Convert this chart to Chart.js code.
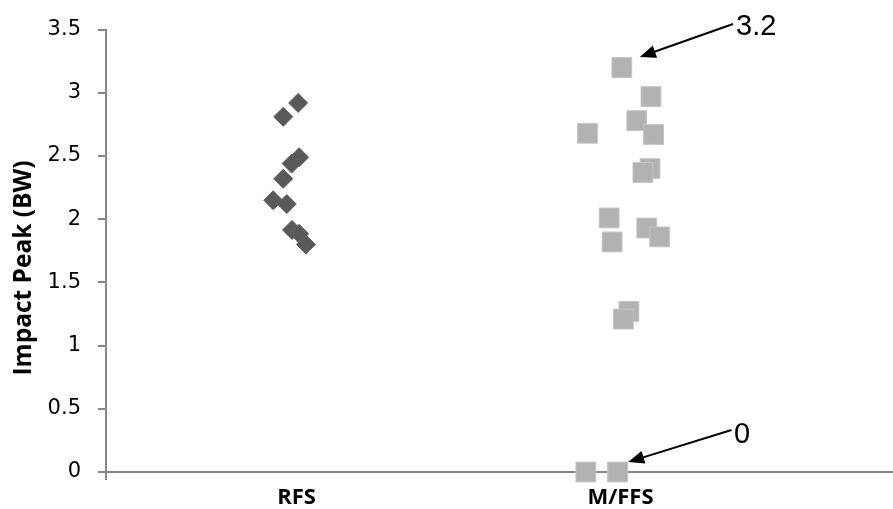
<!DOCTYPE html>
<html>
<head>
<meta charset="utf-8">
<script src="https://cdn.jsdelivr.net/npm/chart.js@4/dist/chart.umd.min.js"></script>
<style>
  html, body { margin: 0; padding: 0; background: #ffffff; }
  #wrap { width: 893px; height: 509px; }
</style>
</head>
<body>
<div id="wrap"><canvas id="c" width="893" height="509"></canvas></div>
<script>
// Foot-strike groups on the category axis (RFS at x = 1, M/FFS at x = 2)
const categories = ['RFS', 'M/FFS'];

// Rearfoot strikers: horizontal spread around x = 1 and impact peak (BW)
const rfsSpread = [1.005, 0.959, 1.008, 0.985, 0.959, 0.928, 0.970, 0.986, 1.008, 1.029];
const rfsPeak   = [2.92, 2.81, 2.49, 2.44, 2.32, 2.15, 2.12, 1.915, 1.885, 1.80];

// Mid/forefoot strikers: horizontal spread around x = 2 and impact peak (BW)
const mffsSpread = [2.004, 2.094, 2.050, 1.898, 2.102, 2.091, 2.069, 1.965, 2.081, 2.121, 1.974, 2.026, 2.009, 1.893, 1.991];
const mffsPeak   = [3.20, 2.97, 2.78, 2.68, 2.67, 2.40, 2.37, 2.01, 1.93, 1.86, 1.82, 1.27, 1.21, 0, 0];

// Y axis range and step
const yMin = 0, yMax = 3.5, yStep = 0.5;
// X range of the category axis
const xMin = 0.412, xMax = 2.841;

// Callouts: text, which M/FFS point it points at, tail position and tip offset
const callouts = [
  { text: '3.2', point: 0,  tail: [733, 24],    tip: [18, -10.6], textAt: [736, 35] },
  { text: '0',   point: 14, tail: [731.5, 430], tip: [10.6, -10], textAt: [734, 443] }
];

const axisGray = '#878787';

function toPoints(xs, ys) {
  return xs.map((x, i) => ({ x: x, y: ys[i] }));
}

const calloutPlugin = {
  id: 'callouts',
  afterDatasetsDraw(chart) {
    const ctx = chart.ctx;
    const meta = chart.getDatasetMeta(1);
    ctx.save();
    callouts.forEach(c => {
      const el = meta.data[c.point];
      const tx = el.x + c.tip[0], ty = el.y + c.tip[1];
      const fx = c.tail[0], fy = c.tail[1];
      const ang = Math.atan2(ty - fy, tx - fx);
      const headLen = 16, headHalf = 6.5;
      const bx = tx - headLen * Math.cos(ang), by = ty - headLen * Math.sin(ang);
      ctx.strokeStyle = '#000';
      ctx.fillStyle = '#000';
      ctx.lineWidth = 2;
      ctx.beginPath();
      ctx.moveTo(fx, fy);
      ctx.lineTo(bx + 2 * Math.cos(ang), by + 2 * Math.sin(ang));
      ctx.stroke();
      ctx.beginPath();
      ctx.moveTo(tx, ty);
      ctx.lineTo(bx + headHalf * Math.sin(ang), by - headHalf * Math.cos(ang));
      ctx.lineTo(bx - headHalf * Math.sin(ang), by + headHalf * Math.cos(ang));
      ctx.closePath();
      ctx.fill();
      ctx.font = '29px "Liberation Sans", Arial, sans-serif';
      ctx.textAlign = 'left';
      ctx.textBaseline = 'alphabetic';
      ctx.fillText(c.text, c.textAt[0], c.textAt[1]);
    });
    ctx.restore();
  }
};

const axisTitlePlugin = {
  id: 'axisTitle',
  afterDraw(chart) {
    const ctx = chart.ctx;
    ctx.save();
    ctx.translate(31, 268);
    ctx.rotate(-Math.PI / 2);
    ctx.font = 'bold 24.5px "Open Sans", sans-serif';
    ctx.fillStyle = '#000';
    ctx.textAlign = 'center';
    ctx.textBaseline = 'alphabetic';
    ctx.fillText('Impact Peak (BW)', 0, 0);
    ctx.restore();
  }
};

new Chart(document.getElementById('c'), {
  type: 'scatter',
  data: {
    datasets: [
      {
        label: categories[0],
        data: toPoints(rfsSpread, rfsPeak),
        pointStyle: 'rectRot',
        pointRadius: 9.5,
        backgroundColor: '#595959',
        borderColor: '#616161',
        borderWidth: 1,
        clip: false
      },
      {
        label: categories[1],
        data: toPoints(mffsSpread, mffsPeak),
        pointStyle: 'rect',
        pointRadius: 14,
        backgroundColor: '#b2b2b2',
        borderColor: '#c4c4c4',
        borderWidth: 1,
        clip: false
      }
    ]
  },
  options: {
    responsive: false,
    animation: false,
    devicePixelRatio: 1,
    events: [],
    layout: { autoPadding: false, padding: { top: 25, right: 0, bottom: 0, left: 0 } },
    plugins: { legend: { display: false }, tooltip: { enabled: false } },
    scales: {
      x: {
        type: 'linear',
        min: xMin,
        max: xMax,
        afterBuildTicks: s => { s.ticks = [{ value: xMin }, { value: 1 }, { value: 2 }]; },
        afterFit: s => { s.height = 37; },
        ticks: {
          autoSkip: false,
          maxRotation: 0,
          padding: 5,
          color: '#000',
          font: { family: '"Open Sans", sans-serif', size: 22, weight: 'bold' },
          callback: v => (v === 1 ? categories[0] : v === 2 ? categories[1] : '')
        },
        grid: {
          drawOnChartArea: false,
          drawTicks: true,
          tickLength: 8,
          lineWidth: 2,
          color: c => (c.tick && c.tick.value === xMin ? axisGray : 'rgba(0,0,0,0)')
        },
        border: { color: axisGray, width: 2 }
      },
      y: {
        min: yMin,
        max: yMax,
        afterFit: s => { s.width = 106; },
        ticks: {
          stepSize: yStep,
          padding: 17,
          color: '#000',
          font: { family: '"DejaVu Sans", sans-serif', size: 21 },
          callback: v => String(Math.round(v * 10) / 10)
        },
        grid: {
          drawOnChartArea: false,
          drawTicks: true,
          tickLength: 8,
          lineWidth: 2,
          color: axisGray
        },
        border: { color: axisGray, width: 2 }
      }
    }
  },
  plugins: [calloutPlugin, axisTitlePlugin]
});
</script>
</body>
</html>
